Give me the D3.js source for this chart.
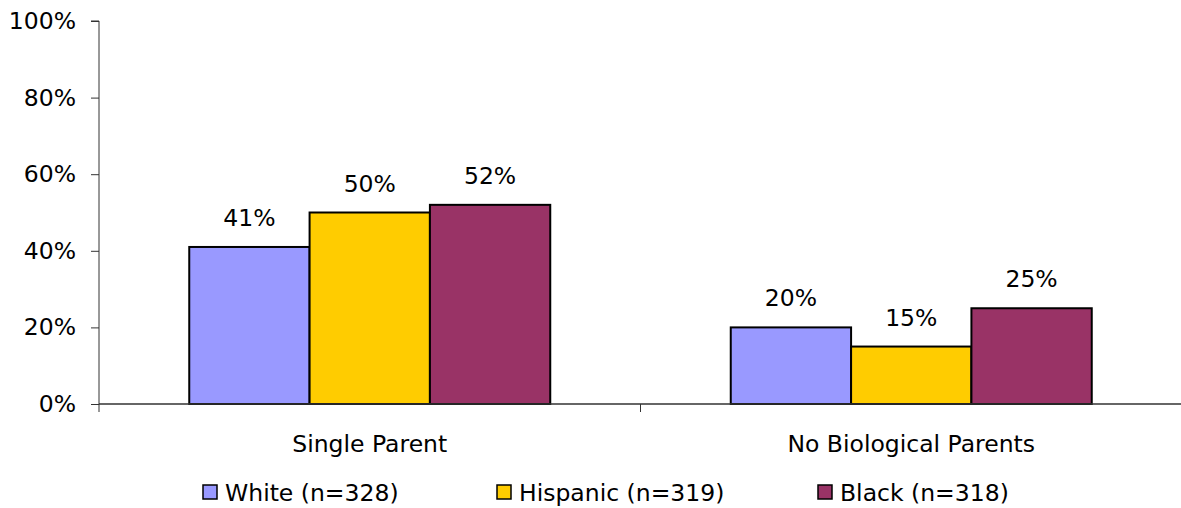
<!DOCTYPE html>
<html><head><meta charset="utf-8">
<script src="https://cdn.jsdelivr.net/npm/d3@7"></script>
<style>
body{margin:0;background:#fff;}
text{font-family:"DejaVu Sans",Verdana,sans-serif;fill:#000;}
</style></head>
<body><svg id="c" width="1181" height="508"></svg>
<script>
const categories = ["Single Parent", "No Biological Parents"];
const seriesNames = ["White (n=328)", "Hispanic (n=319)", "Black (n=318)"];
const white = [41, 20];
const hispanic = [50, 15];
const black = [52, 25];
const colors = ["#9999FF", "#FFCC00", "#993366"];
const yTicks = [0, 20, 40, 60, 80, 100];

const series = [white, hispanic, black];
const svg = d3.select("#c");
const mLeft = 99, mRight = 1182, mTop = 21, mBottom = 404;
const fs = 23.5;

const x = d3.scaleBand().domain(categories).range([mLeft, mRight]).padding(0);
const xInner = d3.scaleBand().domain(d3.range(series.length))
  .range([x.bandwidth()/6, x.bandwidth()*5/6]).padding(0);
const y = d3.scaleLinear().domain([0, 100]).range([mBottom, mTop]);

// bars
categories.forEach((cat, ci) => {
  series.forEach((s, si) => {
    const bx = x(cat) + xInner(si);
    svg.append("rect")
      .attr("x", bx).attr("y", y(s[ci]))
      .attr("width", xInner.bandwidth()).attr("height", y(0) - y(s[ci]))
      .attr("fill", colors[si]).attr("stroke", "#000").attr("stroke-width", 2);
    svg.append("text")
      .attr("x", bx + xInner.bandwidth()/2).attr("y", y(s[ci]) - 21)
      .attr("text-anchor", "middle").attr("font-size", fs)
      .text(s[ci] + "%");
  });
});

// y axis
const yAxis = d3.axisLeft(y).tickValues(yTicks).tickFormat(d => d + "%").tickSize(8).tickPadding(15);
const gy = svg.append("g").attr("transform", `translate(${mLeft},0)`).call(yAxis);
gy.select(".domain").attr("stroke", "#333").attr("d", `M-8,${mTop}H0V${mBottom}`);
gy.selectAll(".tick line").attr("stroke", "#333");
gy.selectAll(".tick text").attr("font-size", fs).attr("font-family", '"DejaVu Sans",Verdana,sans-serif').attr("fill", "#000");

// x axis
svg.append("line").attr("x1", mLeft).attr("x2", mRight).attr("y1", mBottom).attr("y2", mBottom).attr("stroke", "#333").attr("stroke-width", 1.3);
[mLeft, x(categories[1])].forEach(t => {
  svg.append("line").attr("x1", t).attr("x2", t).attr("y1", mBottom).attr("y2", mBottom + 8).attr("stroke", "#333");
});
categories.forEach(cat => {
  svg.append("text").attr("x", x(cat) + x.bandwidth()/2).attr("y", 452)
    .attr("text-anchor", "middle").attr("font-size", fs).text(cat);
});

// legend
const legX = [203, 497, 818];
seriesNames.forEach((n, i) => {
  svg.append("rect").attr("x", legX[i]).attr("y", 485).attr("width", 14).attr("height", 14)
    .attr("fill", colors[i]).attr("stroke", "#000").attr("stroke-width", 1.5);
  svg.append("text").attr("x", legX[i] + 22).attr("y", 501).attr("font-size", fs).text(n);
});
</script></body></html>
